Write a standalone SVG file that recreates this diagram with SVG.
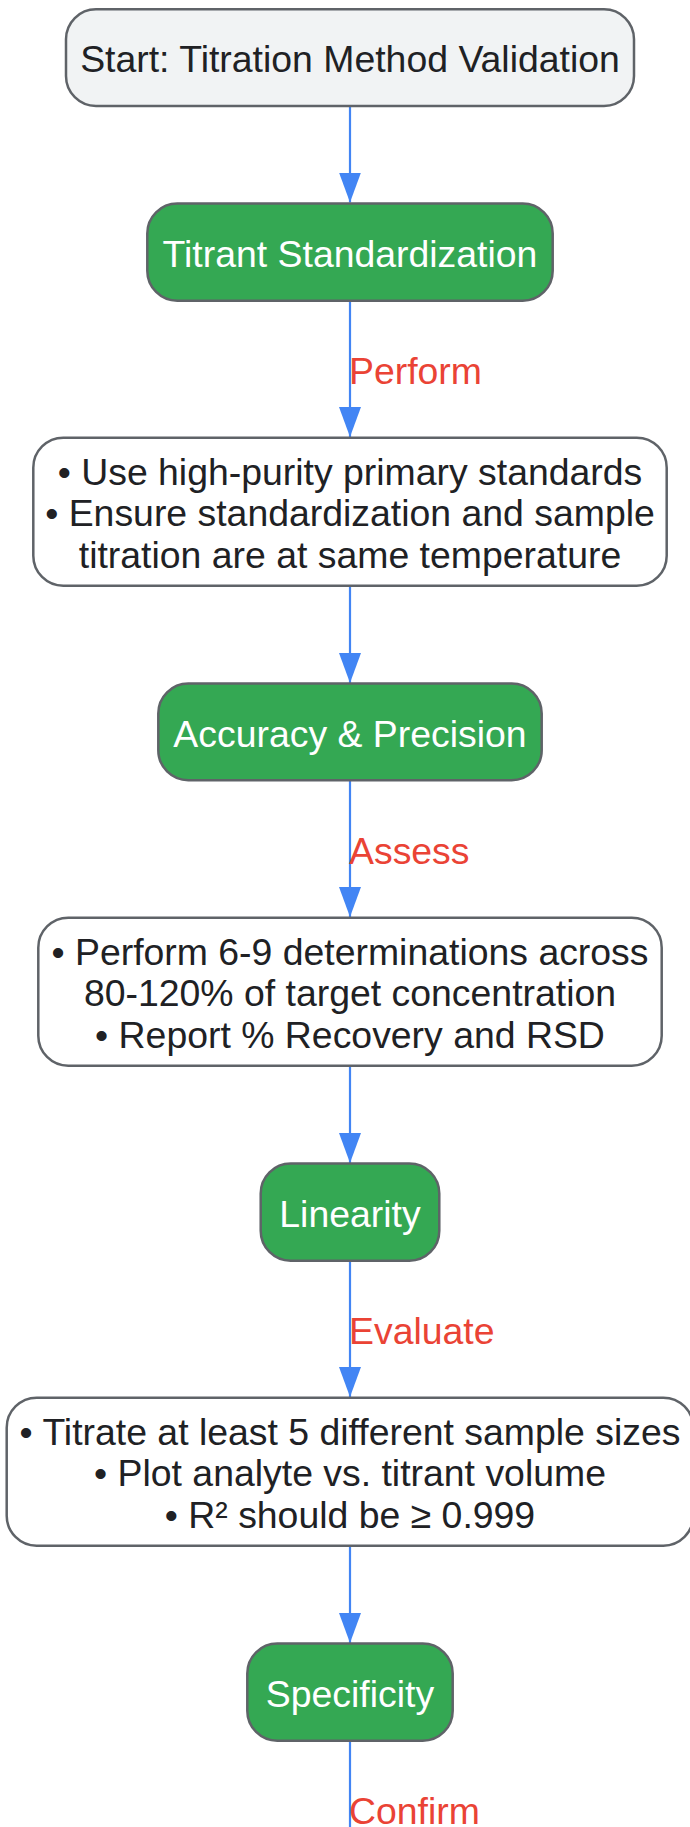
<svg xmlns="http://www.w3.org/2000/svg" width="690" height="1827" viewBox="0 0 690 1827">
<defs>
<marker id="arrow" viewBox="0 0 30 22" markerUnits="userSpaceOnUse" markerWidth="30" markerHeight="22" refX="30" refY="11" orient="auto">
<path d="M0,0 L30,11 L0,22 z" fill="#4285f4"/>
</marker>
<style>
.box{stroke:#5f6368;stroke-width:2.5}
.start{fill:#f1f3f4}
.step{fill:#34a853}
.note{fill:#ffffff}
text{font-family:"Liberation Sans",Arial,Helvetica,sans-serif;font-size:37.4px;text-anchor:middle}
.dark{fill:#202124}
.light{fill:#ffffff}
.edge{stroke:#4285f4;stroke-width:2.2;fill:none}
.lbl{fill:#ea4335;text-anchor:start}
</style>
</defs>
<rect width="690" height="1827" fill="#ffffff"/>
<g id="connectors">
<line class="edge" x1="350" y1="106" x2="350" y2="202.5" marker-end="url(#arrow)"/>
<line class="edge" x1="350" y1="300.7" x2="350" y2="437" marker-end="url(#arrow)"/>
<line class="edge" x1="350" y1="585.7" x2="350" y2="683" marker-end="url(#arrow)"/>
<line class="edge" x1="350" y1="780" x2="350" y2="917" marker-end="url(#arrow)"/>
<line class="edge" x1="350" y1="1065.7" x2="350" y2="1163" marker-end="url(#arrow)"/>
<line class="edge" x1="350" y1="1260.7" x2="350" y2="1397" marker-end="url(#arrow)"/>
<line class="edge" x1="350" y1="1545.7" x2="350" y2="1643" marker-end="url(#arrow)"/>
<line class="edge" x1="350" y1="1740.7" x2="350" y2="1827"/>
<text class="lbl" x="349" y="384.2">Perform</text>
<text class="lbl" x="349" y="864">Assess</text>
<text class="lbl" x="349" y="1344">Evaluate</text>
<text class="lbl" x="349" y="1823.5">Confirm</text>
</g>
<g id="start">
<rect class="box start" x="66" y="9.3" width="568" height="96.7" rx="30" ry="30"/>
<text class="dark" x="350" y="72.4">Start: Titration Method Validation</text>
</g>
<g id="titrant-standardization">
<rect class="box step" x="147.3" y="203.5" width="405.4" height="97.2" rx="30" ry="30"/>
<text class="light" x="350" y="266.7">Titrant Standardization</text>
</g>
<g id="standardization-notes">
<rect class="box note" x="33.3" y="437.7" width="633.4" height="148" rx="30" ry="30"/>
<text class="dark" x="350" y="484.7">• Use high-purity primary standards</text>
<text class="dark" x="350" y="526.3">• Ensure standardization and sample</text>
<text class="dark" x="350" y="567.9">titration are at same temperature</text>
</g>
<g id="accuracy-precision">
<rect class="box step" x="158.3" y="683.5" width="383.4" height="96.7" rx="30" ry="30"/>
<text class="light" x="350" y="746.7">Accuracy &amp; Precision</text>
</g>
<g id="accuracy-notes">
<rect class="box note" x="38.3" y="917.7" width="623.4" height="148" rx="30" ry="30"/>
<text class="dark" x="350" y="964.7">• Perform 6-9 determinations across</text>
<text class="dark" x="350" y="1006.3">80-120% of target concentration</text>
<text class="dark" x="350" y="1047.9">• Report % Recovery and RSD</text>
</g>
<g id="linearity">
<rect class="box step" x="260.7" y="1163.5" width="178.6" height="97.2" rx="30" ry="30"/>
<text class="light" x="350" y="1226.7">Linearity</text>
</g>
<g id="linearity-notes">
<rect class="box note" x="6.7" y="1397.7" width="686.6" height="148" rx="30" ry="30"/>
<text class="dark" x="350" y="1444.7">• Titrate at least 5 different sample sizes</text>
<text class="dark" x="350" y="1486.3">• Plot analyte vs. titrant volume</text>
<text class="dark" x="350" y="1527.9">• R² should be ≥ 0.999</text>
</g>
<g id="specificity">
<rect class="box step" x="247.3" y="1643.5" width="205.4" height="97.2" rx="30" ry="30"/>
<text class="light" x="350" y="1706.7">Specificity</text>
</g>
</svg>
